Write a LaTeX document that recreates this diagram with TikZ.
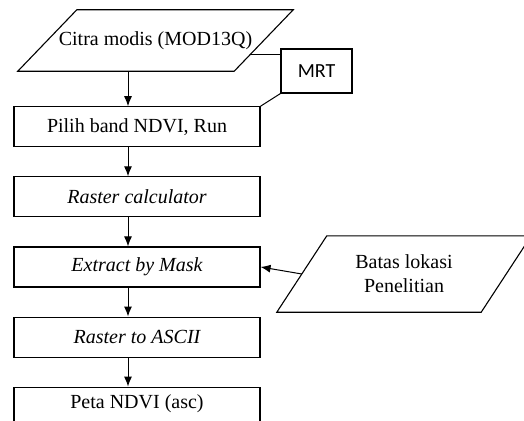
\documentclass[tikz,border=0pt]{standalone}
\usepackage{fontspec}
\setmainfont{Liberation Serif}
\setsansfont{Carlito}
\usetikzlibrary{arrows.meta,positioning,calc}

\begin{document}
\begin{tikzpicture}[
  x=1pt, y=-1pt,
  node distance=29pt,
  box/.style={draw,line width=1.1pt,minimum width=246pt,minimum height=40pt,inner sep=2pt,font={\fontsize{20}{24}\selectfont}},
  iotext/.style={inner sep=0pt,align=center,font={\fontsize{20}{24}\selectfont}},
  tool/.style={draw,line width=1.1pt,minimum width=71pt,minimum height=44pt,font={\sffamily\fontsize{20}{24}\selectfont}},
  edge/.style={line width=1.1pt},
  arrow/.style={-{Latex[length=10pt,width=8pt]},line width=1pt},
  link/.style={line width=1pt}
]
\useasboundingbox (0,0) rectangle (524,420);
\node[iotext,minimum width=216pt,minimum height=61pt] (citra) at (155.5,40.5) {Citra modis (MOD13Q)};
\draw[edge] ([xshift=-29.5pt]citra.south west) -- ([xshift=29.5pt]citra.north west)
  -- ([xshift=29.5pt]citra.north east) -- ([xshift=-29.5pt]citra.south east) -- cycle;
\node[tool] (mrt) at (316.5,71) {MRT};
\node[box,below=35pt of citra,xshift=-18.5pt] (pilih) {Pilih band NDVI, Run};
\node[box,below=of pilih,font={\itshape\fontsize{20}{24}\selectfont}] (calc) {Raster calculator};
\node[box,below=of calc,font={\itshape\fontsize{20}{24}\selectfont}] (mask) {Extract by Mask};
\node[box,below=of mask,font={\itshape\fontsize{20}{24}\selectfont}] (ascii) {Raster to ASCII};
\node[box,below=of ascii,minimum height=34pt] (peta) {Peta NDVI (asc)};
\node[iotext,minimum width=204pt,minimum height=76pt] (batas) at (404,274) {Batas lokasi\\Penelitian};
\draw[edge] ([xshift=-25pt]batas.south west) -- ([xshift=25pt]batas.north west)
  -- ([xshift=25pt]batas.north east) -- ([xshift=-25pt]batas.south east) -- cycle;
% MRT joins
\coordinate (tie) at ($(citra.east)!0.44!([xshift=-29.5pt]citra.south east)$);
\draw[link] (tie) -- (tie -| mrt.west);
\draw[link] (mrt.south west) -- (pilih.north east);
% main flow
\draw[arrow] ([xshift=-9pt]pilih.north |- citra.south) -- ([xshift=-9pt]pilih.north);
\draw[arrow] ([xshift=-9pt]pilih.south) -- ([xshift=-9pt]calc.north);
\draw[arrow] ([xshift=-9pt]calc.south) -- ([xshift=-9pt]mask.north);
\draw[arrow] ([xshift=-9pt]mask.south) -- ([xshift=-9pt]ascii.north);
\draw[arrow] ([xshift=-9pt]ascii.south) -- ([xshift=-9pt]peta.north);
\draw[arrow] (batas.west) -- (mask.east);
\end{tikzpicture}
\end{document}
